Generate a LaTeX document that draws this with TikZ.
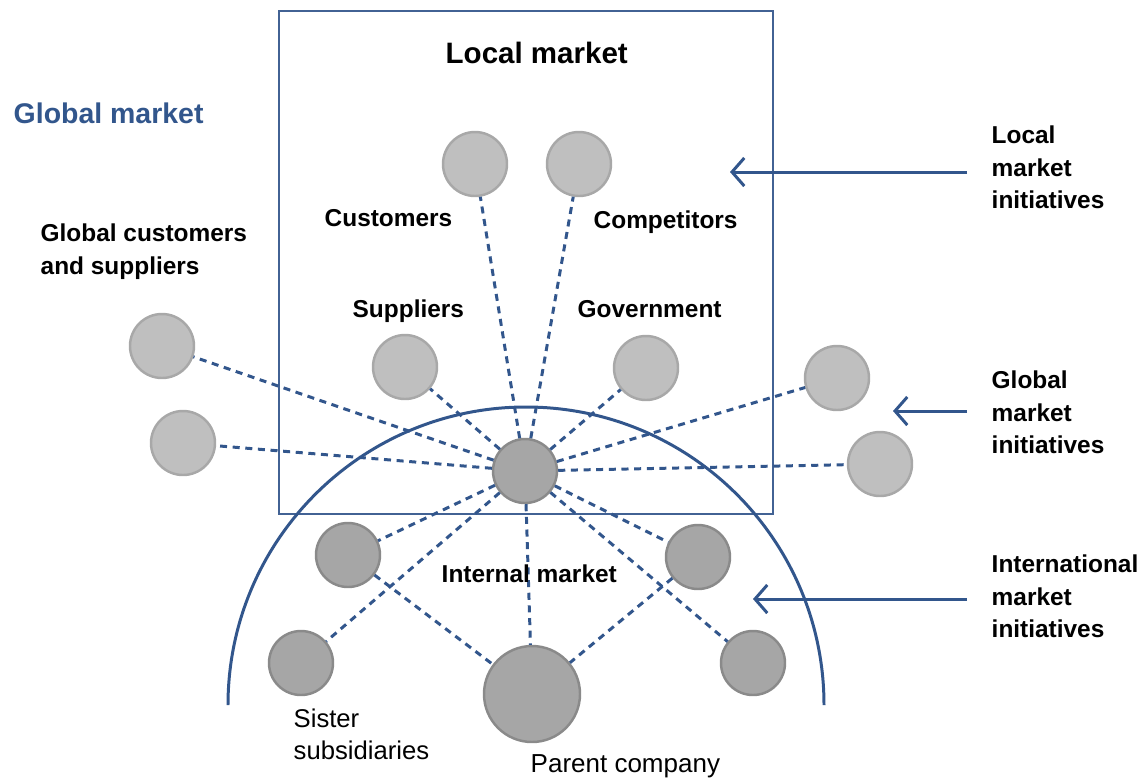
\documentclass[tikz,border=0pt]{standalone}
\usepackage{fontspec}
\setmainfont{Liberation Sans}
\usepackage{tikz}
\usetikzlibrary{arrows.meta}

\definecolor{mktblue}{RGB}{50,86,140}
\definecolor{boxblue}{RGB}{66,98,148}
\definecolor{lightball}{RGB}{191,191,191}
\definecolor{lightrim}{RGB}{168,168,168}
\definecolor{darkball}{RGB}{166,166,166}
\definecolor{darkrim}{RGB}{138,138,138}

\begin{document}
\begin{tikzpicture}
	\useasboundingbox (0,0) rectangle (11.43,7.78);

	% local market box and internal market arc
	\draw [boxblue, line width=0.7pt] (2.79,2.64) rectangle (7.73,7.67);
	\draw [mktblue, line width=0.85pt] (2.28,0.73) arc [start angle=180, end angle=0, radius=2.98];

	\begin{scope}[every node/.style={circle,draw=lightrim,fill=lightball,line width=0.7pt,minimum size=0.64cm,inner sep=0pt}]
    \node (Cu) at (4.75,6.14) {};
    \node (Co) at (5.79,6.14) {};
    \node (Su) at (4.05,4.11) {};
    \node (Go) at (6.46,4.10) {};
    \node (G1) at (1.62,4.32) {};
    \node (G2) at (1.83,3.35) {};
    \node (G3) at (8.37,4.00) {};
    \node (G4) at (8.80,3.14) {};
	\end{scope}

	\begin{scope}[every node/.style={circle,draw=darkrim,fill=darkball,line width=0.7pt,minimum size=0.64cm,inner sep=0pt}]
    \node (C) at (5.25,3.07) {};
    \node (I1) at (3.48,2.23) {};
    \node (I2) at (6.98,2.21) {};
    \node (I3) at (3.01,1.15) {};
    \node (I4) at (7.53,1.15) {};
    \node (P) at (5.32,0.84) [minimum size=0.96cm] {};
	\end{scope}

	\begin{scope}[every edge/.style={draw=mktblue,line width=0.85pt,dash pattern=on 2pt off 1.6pt}]
    \path (C) edge (Cu);
    \path (C) edge (Co);
    \path (C) edge (Su);
    \path (C) edge (Go);
    \path (C) edge (G1);
    \path (C) edge (G2);
    \path (C) edge (G3);
    \path (C) edge (G4);
    \path (C) edge (I1);
    \path (C) edge (I2);
    \path (C) edge (I3);
    \path (C) edge (I4);
    \path (C) edge (P);
    \path (I1) edge (P);
    \path (I2) edge (P);
	\end{scope}

	% labels
	\begin{scope}[every node/.style={inner sep=0pt,font=\fontsize{6.95}{9.3}\selectfont\bfseries,align=left}]
    \node (lm) [anchor=base west, font=\fontsize{8.4}{10}\selectfont\bfseries] at (4.45,7.15) {Local market};
    \node (gm) [anchor=base west, font=\fontsize{8.1}{10}\selectfont\bfseries, text=mktblue] at (0.13,6.55) {Global market};
    \node (cul) [anchor=base west] at (3.24,5.52) {Customers};
    \node (col) [anchor=base west] at (5.93,5.50) {Competitors};
    \node (sul) [anchor=base west] at (3.52,4.61) {Suppliers};
    \node (gol) [anchor=base west] at (5.77,4.61) {Government};
    \node (gcs) [anchor=north west] at (0.40,5.55) {Global customers\\and suppliers};
    \node (lmi) [anchor=north west] at (9.91,6.53) {Local\\market\\initiatives};
    \node (gmi) [anchor=north west] at (9.91,4.08) {Global\\market\\initiatives};
    \node (imi) [anchor=north west] at (9.91,2.24) {International\\market\\initiatives};
    \node (iml) [anchor=base west] at (4.41,1.96) {Internal market};
    \node (ssl) [anchor=north west, font=\fontsize{7.3}{9.3}\selectfont] at (2.93,0.70) {Sister\\subsidiaries};
    \node (pcl) [anchor=base west, font=\fontsize{7.4}{9.3}\selectfont] at (5.30,0.06) {Parent company};
	\end{scope}

	% initiative arrows
	\coordinate (la) at (9.67,6.06);
	\coordinate (lt) at (7.30,6.06);
	\coordinate (ga) at (9.67,3.67);
	\coordinate (gt) at (8.93,3.67);
	\coordinate (ia) at (9.67,1.79);
	\coordinate (it) at (7.53,1.79);
	\begin{scope}[>={Straight Barb[length=3.5pt,width=8pt]}, every edge/.style={draw=mktblue,line width=0.85pt}]
    \path [->] (la) edge (lt);
    \path [->] (ga) edge (gt);
    \path [->] (ia) edge (it);
	\end{scope}
\end{tikzpicture}
\end{document}
